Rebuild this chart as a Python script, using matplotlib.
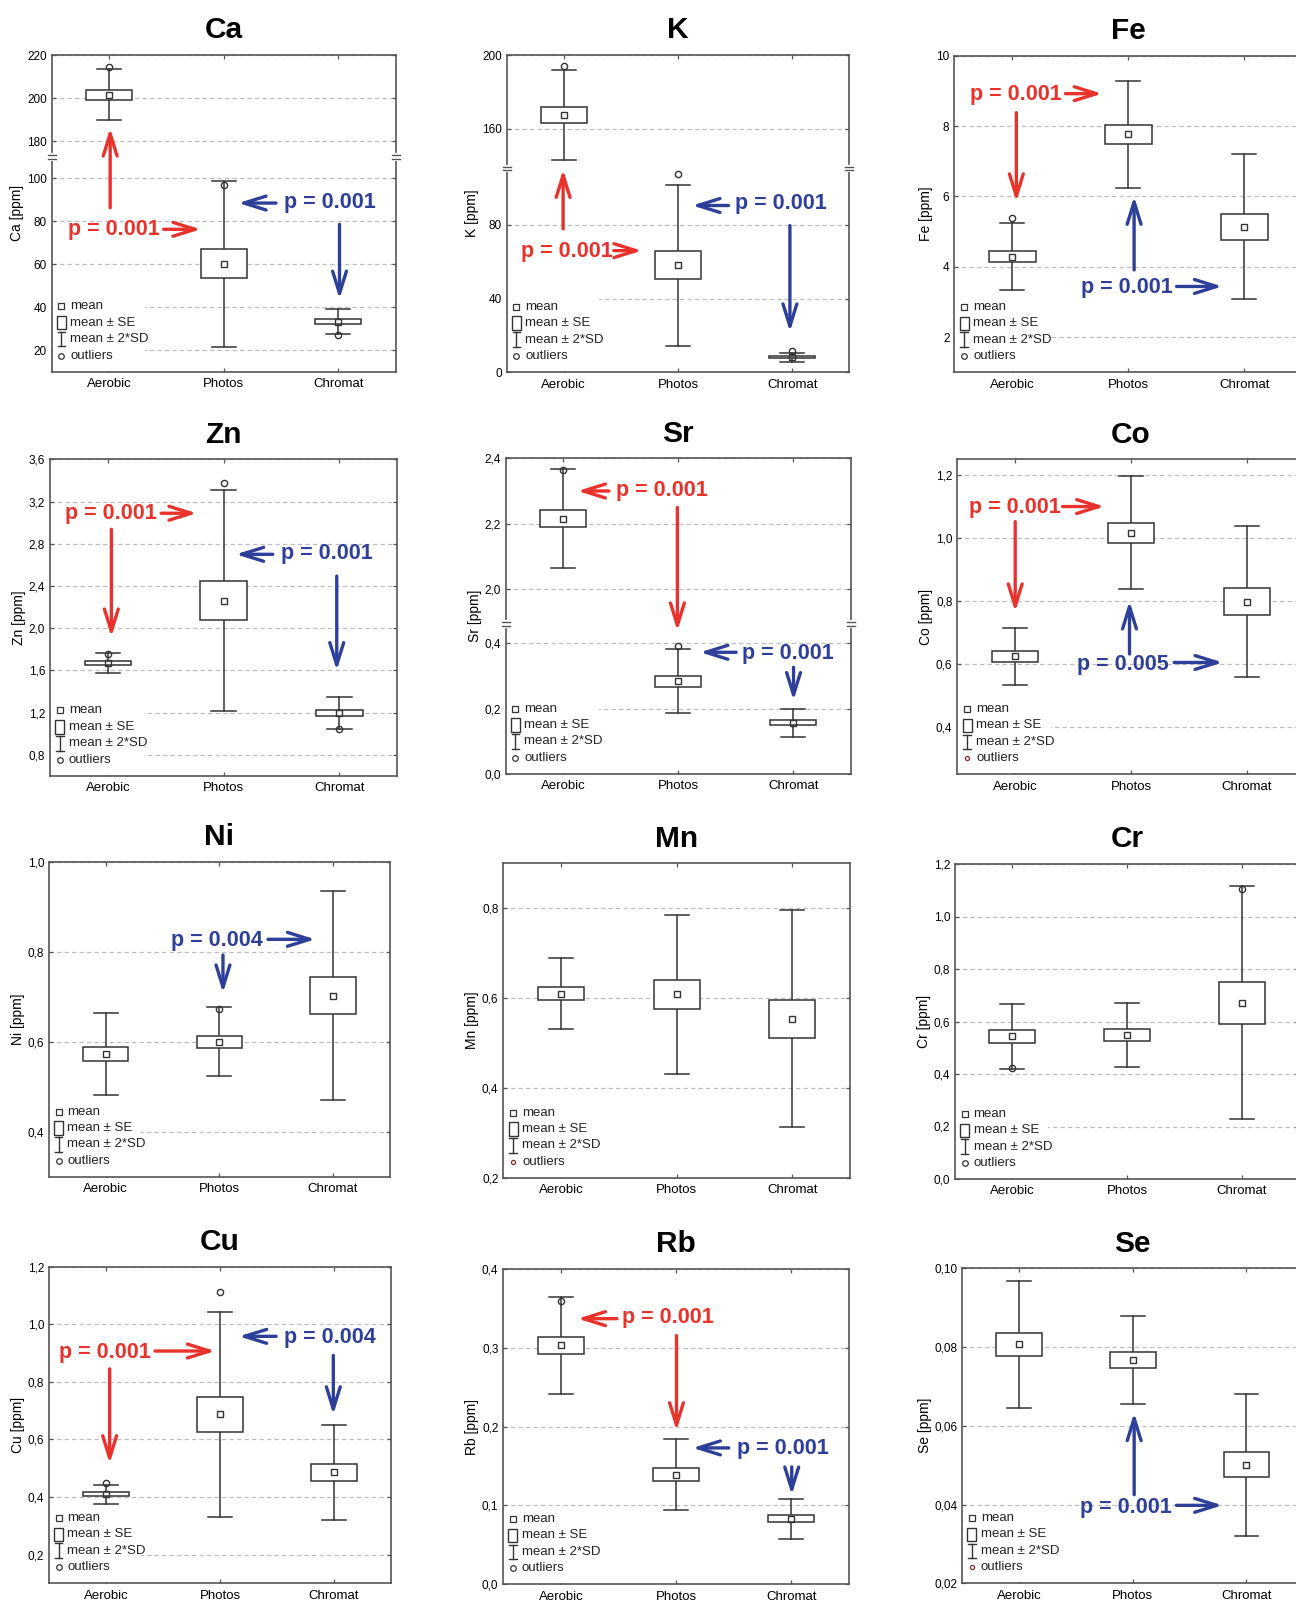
import matplotlib.pyplot as plt
import numpy as np
from matplotlib.patches import Rectangle

groups = ["Aerobic", "Photos", "Chromat"]

# mean, standard error, 2*SD and outliers per group, one set per element
ca_mean = [201.5, 60.1, 33.3]
ca_se = [2.2, 6.75, 1.05]
ca_sd2 = [11.9, 38.7, 5.9]
ca_out = [[214.2], [96.8], [26.9]]

k_mean = [167.6, 58.1, 8.2]
k_se = [4.25, 7.7, 0.7]
k_sd2 = [24.5, 43.7, 2.5]
k_out = [[194.0], [107.4], [11.3]]

fe_mean = [4.29, 7.76, 5.14]
fe_se = [0.165, 0.265, 0.37]
fe_sd2 = [0.94, 1.52, 2.07]
fe_out = [[5.40], [], []]

zn_mean = [1.67, 2.26, 1.20]
zn_se = [0.02, 0.185, 0.028]
zn_sd2 = [0.095, 1.045, 0.153]
zn_out = [[1.76], [3.38], [1.045]]

sr_mean = [2.216, 0.283, 0.157]
sr_se = [0.026, 0.017, 0.008]
sr_sd2 = [0.15, 0.098, 0.043]
sr_out = [[2.364], [0.392], []]

co_mean = [0.624, 1.017, 0.798]
co_se = [0.016, 0.032, 0.042]
co_sd2 = [0.089, 0.18, 0.24]
co_out = [[], [], []]

ni_mean = [0.573, 0.600, 0.703]
ni_se = [0.016, 0.014, 0.041]
ni_sd2 = [0.091, 0.077, 0.232]
ni_out = [[], [0.674], []]

mn_mean = [0.610, 0.608, 0.554]
mn_se = [0.015, 0.032, 0.042]
mn_sd2 = [0.079, 0.177, 0.242]
mn_out = [[], [], []]

cr_mean = [0.543, 0.548, 0.671]
cr_se = [0.023, 0.022, 0.079]
cr_sd2 = [0.125, 0.123, 0.444]
cr_out = [[0.421], [], [1.105]]

cu_mean = [0.409, 0.687, 0.485]
cu_se = [0.007, 0.062, 0.03]
cu_sd2 = [0.034, 0.356, 0.164]
cu_out = [[0.449], [1.113], []]

rb_mean = [0.303, 0.139, 0.0833]
rb_se = [0.011, 0.008, 0.0047]
rb_sd2 = [0.061, 0.045, 0.0253]
rb_out = [[0.36], [], []]

se_mean = [0.0807, 0.0767, 0.0501]
se_se = [0.0029, 0.002, 0.0032]
se_sd2 = [0.0162, 0.0111, 0.018]
se_out = [[], [], []]

RED = "#e8322b"
BLUE = "#2d3f98"
INK = "#333333"

plt.rcParams["font.family"] = ["Liberation Sans", "DejaVu Sans"]

# axes box in pixels (left, top, right, bottom), limits, ticks and notes
panels = [
    dict(name="Ca", d=(ca_mean, ca_se, ca_sd2, ca_out), box=(51.7, 55, 395.7, 371.7),
         ylim=(10, 220), brk=(109.7, 172.6), ticks=[20, 40, 60, 80, 100, 180, 200, 220], dec=0,
         notes=[("t", RED, 1.04, 76.2, "p = 0.001"), ("a", RED, 1.477, 76.2, 1.80, 76.2),
                ("a", RED, 1.01, 86.2, 1.01, 186), ("t", BLUE, 2.924, 88.5, "p = 0.001"),
                ("a", BLUE, 2.456, 88.4, 2.127, 88.4), ("a", BLUE, 3.01, 78.5, 3.01, 43.8)]),
    dict(name="K", d=(k_mean, k_se, k_sd2, k_out), box=(506.7, 55, 849.3, 372.3),
         ylim=(0, 200), brk=(110.6, 138.5), ticks=[0, 40, 80, 160, 200], dec=0,
         notes=[("t", RED, 1.03, 65.8, "p = 0.001"), ("a", RED, 1.438, 66, 1.683, 66),
                ("a", RED, 0.994, 77.8, 0.994, 110), ("t", BLUE, 2.898, 91.4, "p = 0.001"),
                ("a", BLUE, 2.442, 90.5, 2.124, 90.5), ("a", BLUE, 2.98, 79.6, 2.98, 22.0)]),
    dict(name="Fe", d=(fe_mean, fe_se, fe_sd2, fe_out), box=(954.3, 55.7, 1302.3, 372.3),
         ylim=(1, 10), ticks=[2, 4, 6, 8, 10], dec=0,
         notes=[("t", RED, 1.03, 8.90, "p = 0.001"), ("a", RED, 1.458, 8.92, 1.774, 8.92),
                ("a", RED, 1.035, 8.38, 1.035, 5.85), ("t", BLUE, 1.99, 3.41, "p = 0.001"),
                ("a", BLUE, 2.416, 3.44, 2.81, 3.44), ("a", BLUE, 2.05, 3.91, 2.05, 6.0)]),
    dict(name="Zn", d=(zn_mean, zn_se, zn_sd2, zn_out), box=(50, 459.3, 397.3, 776),
         ylim=(0.6, 3.6), ticks=[0.8, 1.2, 1.6, 2.0, 2.4, 2.8, 3.2, 3.6], dec=1,
         notes=[("t", RED, 1.026, 3.082, "p = 0.001"), ("a", RED, 1.46, 3.089, 1.768, 3.089),
                ("a", RED, 1.03, 2.937, 1.03, 1.918), ("t", BLUE, 2.89, 2.703, "p = 0.001"),
                ("a", BLUE, 2.424, 2.70, 2.105, 2.70), ("a", BLUE, 2.977, 2.494, 2.977, 1.60)]),
    dict(name="Sr", d=(sr_mean, sr_se, sr_sd2, sr_out), box=(505.7, 458.3, 850.7, 774),
         ylim=(0, 2.4), brk=(0.458, 1.896), ticks=[0.0, 0.2, 0.4, 2.0, 2.2, 2.4], dec=1,
         notes=[("t", RED, 1.856, 2.303, "p = 0.001"), ("a", RED, 1.398, 2.30, 1.125, 2.30),
                ("a", RED, 1.993, 2.250, 1.993, 0.4375), ("t", BLUE, 2.95, 0.369, "p = 0.001"),
                ("a", BLUE, 2.504, 0.372, 2.19, 0.372), ("a", BLUE, 3.003, 0.326, 3.003, 0.225)]),
    dict(name="Co", d=(co_mean, co_se, co_sd2, co_out), box=(957.3, 459.3, 1304.7, 774.3),
         ylim=(0.25, 1.25), ticks=[0.4, 0.6, 0.8, 1.0, 1.2], dec=1,
         notes=[("t", RED, 1.0, 1.097, "p = 0.001"), ("a", RED, 1.409, 1.10, 1.771, 1.10),
                ("a", RED, 1.0, 1.052, 1.0, 0.766), ("t", BLUE, 1.93, 0.598, "p = 0.005"),
                ("a", BLUE, 2.373, 0.605, 2.793, 0.605), ("a", BLUE, 1.987, 0.632, 1.987, 0.80)]),
    dict(name="Ni", d=(ni_mean, ni_se, ni_sd2, ni_out), box=(49, 862, 389.7, 1176.7),
         ylim=(0.3, 1.0), ticks=[0.4, 0.6, 0.8, 1.0], dec=1,
         notes=[("t", BLUE, 1.982, 0.825, "p = 0.004"), ("a", BLUE, 2.428, 0.828, 2.845, 0.828),
                ("a", BLUE, 2.032, 0.793, 2.032, 0.709)]),
    dict(name="Mn", d=(mn_mean, mn_se, mn_sd2, mn_out), box=(503.3, 863.3, 850, 1177.7),
         ylim=(0.2, 0.9), ticks=[0.2, 0.4, 0.6, 0.8], dec=1, notes=[]),
    dict(name="Cr", d=(cr_mean, cr_se, cr_sd2, cr_out), box=(955, 864, 1299, 1179),
         ylim=(0.0, 1.2), ticks=[0.0, 0.2, 0.4, 0.6, 0.8, 1.0, 1.2], dec=1, notes=[]),
    dict(name="Cu", d=(cu_mean, cu_se, cu_sd2, cu_out), box=(49, 1266.7, 391, 1583.3),
         ylim=(0.1, 1.2), ticks=[0.2, 0.4, 0.6, 0.8, 1.0, 1.2], dec=1,
         notes=[("t", RED, 0.99, 0.903, "p = 0.001"), ("a", RED, 1.43, 0.907, 1.958, 0.907),
                ("a", RED, 1.032, 0.845, 1.032, 0.516), ("t", BLUE, 2.968, 0.955, "p = 0.004"),
                ("a", BLUE, 2.492, 0.958, 2.165, 0.958), ("a", BLUE, 2.994, 0.892, 2.994, 0.686)]),
    dict(name="Rb", d=(rb_mean, rb_se, rb_sd2, rb_out), box=(503.3, 1269, 849, 1584.3),
         ylim=(0.0, 0.4), ticks=[0.0, 0.1, 0.2, 0.3, 0.4], dec=1,
         notes=[("t", RED, 1.93, 0.339, "p = 0.001"), ("a", RED, 1.486, 0.337, 1.145, 0.337),
                ("a", RED, 2.003, 0.3156, 2.003, 0.195), ("t", BLUE, 2.928, 0.172, "p = 0.001"),
                ("a", BLUE, 2.457, 0.173, 2.142, 0.173), ("a", BLUE, 3.003, 0.149, 3.003, 0.1135)]),
    dict(name="Se", d=(se_mean, se_se, se_sd2, se_out), box=(962.3, 1268.3, 1303.3, 1583.3),
         ylim=(0.02, 0.10), ticks=[0.02, 0.04, 0.06, 0.08, 0.10], dec=2,
         notes=[("t", BLUE, 1.94, 0.0392, "p = 0.001"), ("a", BLUE, 2.384, 0.0398, 2.789, 0.0398),
                ("a", BLUE, 2.012, 0.0425, 2.012, 0.0633)]),
]


def make_break(lo, hi, eps=0.002):
    gap = hi - lo

    def fwd(y):
        y = np.asarray(y, dtype=float)
        return np.where(y <= lo, y, np.where(y >= hi, y - gap * (1 - eps), lo + (y - lo) * eps))

    def inv(z):
        z = np.asarray(z, dtype=float)
        top = lo + gap * eps
        return np.where(z <= lo, z, np.where(z >= top, z + gap * (1 - eps), lo + (z - lo) / eps))

    return fwd, inv


def draw_legend(ax, has_outliers):
    ax.add_patch(Rectangle((0.003, 0.003), 0.267, 0.237, transform=ax.transAxes,
                           facecolor="white", edgecolor="none", zorder=1))
    sx, tx = 0.028, 0.054
    ys = [0.207, 0.155, 0.103, 0.051]
    ax.plot(sx, ys[0], marker="s", ms=4, mfc="none", mec=INK, mew=0.9,
            transform=ax.transAxes, zorder=6)
    ax.add_patch(Rectangle((sx - 0.013, ys[1] - 0.021), 0.026, 0.042, transform=ax.transAxes,
                           facecolor="white", edgecolor=INK, lw=1.0, zorder=6))
    ax.plot([sx, sx], [ys[2] - 0.023, ys[2] + 0.023], color=INK, lw=1.0,
            transform=ax.transAxes, zorder=6)
    for yy in (ys[2] - 0.023, ys[2] + 0.023):
        ax.plot([sx - 0.011, sx + 0.011], [yy, yy], color=INK, lw=1.0,
                transform=ax.transAxes, zorder=6)
    if has_outliers:
        ax.plot(sx, ys[3], marker="o", ms=4, mfc="none", mec=INK, mew=0.9,
                transform=ax.transAxes, zorder=6)
    else:
        ax.plot(sx, ys[3], marker="o", ms=3, mfc="none", mec="#8a2a2a", mew=0.9,
                transform=ax.transAxes, zorder=6)
    labels = ["mean", "mean \u00b1 SE", "mean \u00b1 2*SD", "outliers"]
    for yy, lab in zip(ys, labels):
        ax.text(tx, yy, lab, transform=ax.transAxes, fontsize=9.5, va="center",
                ha="left", color="#222222", zorder=6)


W, H = 1296, 1604
fig = plt.figure(figsize=(W / 100, H / 100), dpi=100)
x = np.arange(1, 4)

for p in panels:
    l, t, r, b = p["box"]
    ax = fig.add_axes([l / W, 1 - b / H, (r - l) / W, (b - t) / H])
    if "brk" in p:
        fwd, inv = make_break(*p["brk"])
        ax.set_yscale("function", functions=(fwd, inv))
    ax.set_xlim(0.5, 3.5)
    ax.set_ylim(*p["ylim"])
    ax.set_xticks(x)
    ax.set_xticklabels(groups, fontsize=9.5)
    ax.set_yticks(p["ticks"])
    ax.set_yticklabels([f"{v:.{p['dec']}f}".replace(".", ",") for v in p["ticks"]], fontsize=8.5)
    ax.minorticks_off()
    ax.tick_params(direction="in", length=3, width=0.9, color="#555555",
                   top=True, right=True, pad=3.5)
    ax.tick_params(axis="x", pad=4.5)
    ax.set_axisbelow(True)
    ax.yaxis.grid(True, color="#bdbdbd", lw=0.9, linestyle=(0, (3.5, 2.5)))
    for s in ax.spines.values():
        s.set_color("#555555")
        s.set_linewidth(1.2)
    ax.set_ylabel(f"{p['name']} [ppm]", fontsize=10, labelpad=2)
    ax.set_title(p["name"], fontsize=21.5, fontweight="bold", pad=12)

    mean, se, sd2, out = p["d"]
    for i in range(3):
        m = mean[i]
        ax.plot([x[i], x[i]], [m - sd2[i], m + sd2[i]], color=INK, lw=1.1, zorder=3)
        for yy in (m - sd2[i], m + sd2[i]):
            ax.plot([x[i] - 0.105, x[i] + 0.105], [yy, yy], color=INK, lw=1.1, zorder=3)
        ax.add_patch(Rectangle((x[i] - 0.2, m - se[i]), 0.4, 2 * se[i], facecolor="white",
                               edgecolor=INK, lw=1.1, zorder=4))
        ax.plot(x[i], m, marker="s", ms=4.5, mfc="none", mec=INK, mew=1.0, zorder=5)
        for o in out[i]:
            ax.plot(x[i], o, marker="o", ms=4.5, mfc="none", mec=INK, mew=1.0, zorder=6)

    draw_legend(ax, any(len(o) for o in out))

    if "brk" in p:
        lo_lim, hi_lim = p["ylim"]
        fy = (fwd(p["brk"][0]) - fwd(lo_lim)) / (fwd(hi_lim) - fwd(lo_lim))
        for sx in (0.0, 1.0):
            ax.plot([sx, sx], [fy - 0.006, fy + 0.006], color="white", lw=3,
                    transform=ax.transAxes, clip_on=False, zorder=7)
            for dy in (-0.006, 0.006):
                ax.plot([sx - 0.012, sx + 0.012], [fy + dy, fy + dy], color="#555555", lw=1.0,
                        transform=ax.transAxes, clip_on=False, zorder=8)

    for n in p["notes"]:
        if n[0] == "t":
            _, c, tx, ty, label = n
            ax.text(tx, ty, label, color=c, fontsize=15.5, fontweight="bold",
                    ha="center", va="center", zorder=9)
        else:
            _, c, x0, y0, x1, y1 = n
            ax.annotate("", xy=(x1, y1), xytext=(x0, y0),
                        arrowprops=dict(arrowstyle="->,head_length=0.8,head_width=0.25",
                                        color=c, lw=2.4, shrinkA=0, shrinkB=0,
                                        mutation_scale=20), zorder=9)

fig.savefig("out.png", dpi=100)
